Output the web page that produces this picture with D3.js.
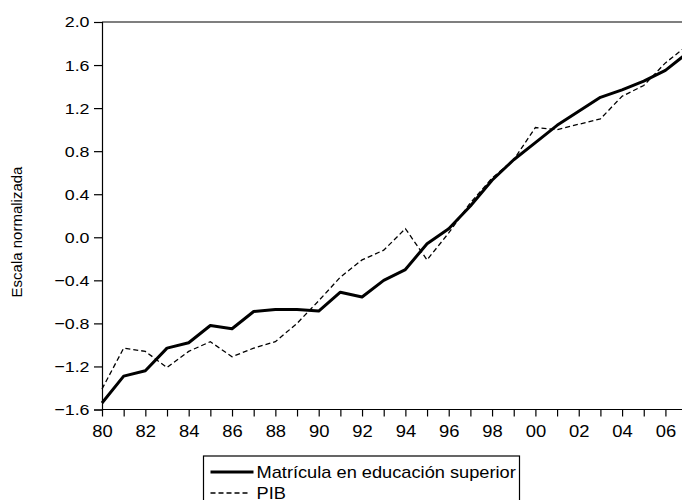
<!DOCTYPE html>
<html>
<head>
<meta charset="utf-8">
<script src="https://cdn.jsdelivr.net/npm/d3@7"></script>
<style>
  body { margin: 0; background: #fff; }
  svg { display: block; font-family: "Liberation Sans", Arial, sans-serif; }
</style>
</head>
<body>
<svg id="chart" width="682" height="500"></svg>
<script>
// years 1980..2007
const years = d3.range(1980, 2008);

// Matrícula en educación superior (normalized)
const matricula = [-1.54, -1.29, -1.24, -1.03, -0.98, -0.82, -0.85, -0.69, -0.67, -0.67,
  -0.685, -0.51, -0.555, -0.40, -0.30, -0.06, 0.08, 0.29, 0.53, 0.72,
  0.88, 1.04, 1.17, 1.30, 1.37, 1.45, 1.55, 1.71];

// PIB (normalized)
const pib = [-1.41, -1.03, -1.06, -1.21, -1.06, -0.97, -1.11, -1.03, -0.97, -0.80,
  -0.59, -0.37, -0.21, -0.12, 0.08, -0.21, 0.04, 0.32, 0.55, 0.72,
  1.02, 1.00, 1.05, 1.10, 1.31, 1.41, 1.62, 1.78];

const yTicks = [2.0, 1.6, 1.2, 0.8, 0.4, 0.0, -0.4, -0.8, -1.2, -1.6];
const xTicks = d3.range(1980, 2007, 2);

const legendLabels = ['Matrícula en educación superior', 'PIB'];

const svg = d3.select('#chart');
const FONT = '"Liberation Sans", Arial, sans-serif';
const stretch = 1.15; // the original text is a bit wider than Arial

const plotLeft = 102, plotTop = 22, plotBottom = 409.5;
const x = d3.scaleLinear().domain([1980, 2007]).range([plotLeft, plotLeft + 27 * 21.67]);
const y = d3.scaleLinear().domain([-1.6, 2.0]).range([plotBottom, plotTop]);

// Top frame line
svg.append('line')
  .attr('x1', plotLeft).attr('x2', 682)
  .attr('y1', plotTop).attr('y2', plotTop)
  .attr('stroke', '#000').attr('stroke-width', 1.2);

// Y axis
const yAxis = svg.append('g')
  .attr('transform', `translate(${plotLeft},0)`)
  .call(d3.axisLeft(y).tickValues(yTicks).tickSize(8).tickPadding(4)
    .tickFormat(d3.format('.1f')));
yAxis.select('.domain').attr('stroke-width', 1.2);
yAxis.selectAll('.tick line').attr('stroke-width', 1.2);
yAxis.selectAll('text')
  .style('font-size', '15.5px').style('font-family', FONT).attr('fill', '#000')
  .attr('x', -12.5 / stretch)
  .attr('transform', `scale(${stretch},1)`);

// X axis
const xAxis = svg.append('g')
  .attr('transform', `translate(0,${plotBottom})`)
  .call(d3.axisBottom(x).tickValues(d3.range(1980, 2008)).tickSize(7).tickPadding(9)
    .tickFormat(d => xTicks.includes(d) ? String(d).slice(2) : ''));
xAxis.select('.domain').attr('d', `M${plotLeft},0H682`).attr('stroke-width', 1.2);
xAxis.selectAll('.tick line').attr('stroke-width', 1.2);
xAxis.selectAll('text')
  .style('font-size', '16px').style('font-family', FONT).attr('fill', '#000')
  .attr('transform', `scale(${stretch},1)`);

// Y axis title
svg.append('text')
  .attr('transform', 'translate(22,232) rotate(-90)')
  .attr('text-anchor', 'middle')
  .style('font-size', '15px')
  .text('Escala normalizada');

const line = d3.line().x((d, i) => x(years[i])).y(d => y(d));

const plot = svg.append('g');

plot.append('path')
  .datum(pib)
  .attr('d', line)
  .attr('fill', 'none')
  .attr('stroke', '#000')
  .attr('stroke-width', 1.3)
  .attr('stroke-dasharray', '5,3');

plot.append('path')
  .datum(matricula)
  .attr('d', line)
  .attr('fill', 'none')
  .attr('stroke', '#000')
  .attr('stroke-width', 3)
  .attr('stroke-linejoin', 'round');

// Legend
const legend = svg.append('g').attr('transform', 'translate(203.5,456)');
legend.append('rect')
  .attr('width', 316).attr('height', 50)
  .attr('fill', '#fff').attr('stroke', '#000').attr('stroke-width', 1.2);

legendLabels.forEach((label, i) => {
  const ly = 16 + i * 21;
  legend.append('line')
    .attr('x1', 7).attr('x2', i === 0 ? 50 : 44)
    .attr('y1', ly).attr('y2', ly)
    .attr('stroke', '#000')
    .attr('stroke-width', i === 0 ? 3 : 1.3)
    .attr('stroke-dasharray', i === 0 ? null : '5,3');
  legend.append('text')
    .attr('transform', `translate(53,${ly + 6}) scale(1.14,1)`)
    .style('font-size', '16px')
    .text(label);
});
</script>
</body>
</html>
